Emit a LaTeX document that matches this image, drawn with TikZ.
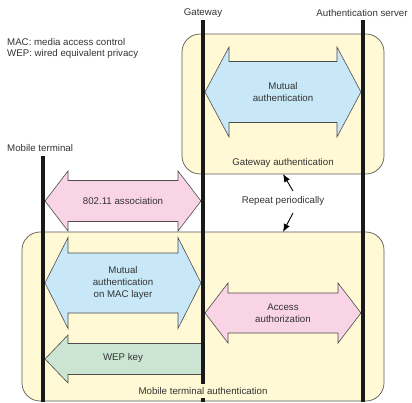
\documentclass[tikz,border=0pt]{standalone}
\usepackage{fontspec}
\setmainfont{Liberation Sans}
\usetikzlibrary{arrows.meta,calc}
\definecolor{boxfill}{HTML}{FFF9D5}
\definecolor{pinkfill}{HTML}{F9D4E4}
\definecolor{bluefill}{HTML}{C8E8F8}
\definecolor{greenfill}{HTML}{CCE5D3}
\definecolor{txt}{HTML}{333333}
\newcommand\dblarr[7]{%
  \path[#7] (#1,#3) -- (#1+#6,#3+#4) -- (#1+#6,#3+#5) -- (#2-#6,#3+#5) -- (#2-#6,#3+#4)
    -- (#2,#3) -- (#2-#6,#3-#4) -- (#2-#6,#3-#5) -- (#1+#6,#3-#5) -- (#1+#6,#3-#4) -- cycle;}
\newcommand\leftarr[7]{%
  \path[#7] (#1,#3) -- (#1+#6,#3+#4) -- (#1+#6,#3+#5) -- (#2,#3+#5) -- (#2,#3-#5)
    -- (#1+#6,#3-#5) -- (#1+#6,#3-#4) -- cycle;}
\begin{document}
\begin{tikzpicture}[x=1pt,y=1pt,
  font=\fontsize{9.7}{12}\selectfont,
  lbl/.style={text=txt,inner sep=0pt,align=center},
  box/.style={draw=black!65,line width=0.7pt,fill=boxfill,rounded corners=18pt,inner sep=0pt,outer sep=0pt},
  life/.style={line width=4pt,black!90},
  arrshape/.style={draw=black!70,line width=0.6pt,line join=miter},
  rep/.style={line width=0.9pt,-{Latex[length=8pt,width=6.5pt]}}]
\useasboundingbox (0,0) rectangle (412,402);
% boxes
\node[box,minimum width=202pt,minimum height=140pt] (gwbox) at (283,298) {};
\node[box,minimum width=362pt,minimum height=169pt] (mtbox) at (203,85.5) {};
% arrows
\dblarr{205}{361}{310}{45}{30.5}{24}{arrshape,fill=bluefill}
\dblarr{45}{201}{201}{30}{20.5}{23}{arrshape,fill=pinkfill}
\dblarr{45}{201}{119}{45.5}{30}{23}{arrshape,fill=bluefill}
\leftarr{45}{203}{43}{24}{15.5}{23}{arrshape,fill=greenfill}
\dblarr{205}{361}{89}{30}{20}{23}{arrshape,fill=pinkfill}
% lifelines
\coordinate (mttop) at (43,246);
\coordinate (mtbot) at (43,0);
\coordinate (gwtop) at (203,382);
\coordinate (gwbot) at (203,0);
\coordinate (astop) at (363,382);
\coordinate (asbot) at (363,0);
\draw[life] (mttop) -- (mtbot);
\draw[life] (gwtop) -- (gwbot);
\draw[life] (astop) -- (asbot);
% labels
\node[lbl] (gwl) at (203,389) {Gateway};
\node[lbl] (asl) at (362,389) {Authentication server};
\node[lbl,anchor=west] (mac) at (7,360) {MAC: media access control};
\node[lbl,anchor=west] (wep) at (7,348) {WEP: wired equivalent privacy};
\node[lbl,anchor=west] (mtl) at (7,254) {Mobile terminal};
\node[lbl] (ma) at (283,310) {Mutual\\authentication};
\node[lbl] (gwa) at (283,239) {Gateway authentication};
\node[lbl] (assoc) at (123,201) {802.11 association};
\node[lbl] (rp) at (283,201) {Repeat periodically};
\node[lbl] (mam) at (123,119) {Mutual\\authentication\\on MAC layer};
\node[lbl] (aa) at (283,89) {Access\\authorization};
\node[lbl] (wk) at (123,44) {WEP key};
\node[lbl,fill=boxfill,inner xsep=1pt,inner ysep=3pt] (mta) at (203,11) {Mobile terminal authentication};
% repeat arrows
\coordinate (rpup) at (293,211);
\coordinate (rpdn) at (293,189);
\draw[rep] (rpup) -- (gwbox.south);
\draw[rep] (rpdn) -- (mtbox.north -| gwbox.south);
\end{tikzpicture}
\end{document}
